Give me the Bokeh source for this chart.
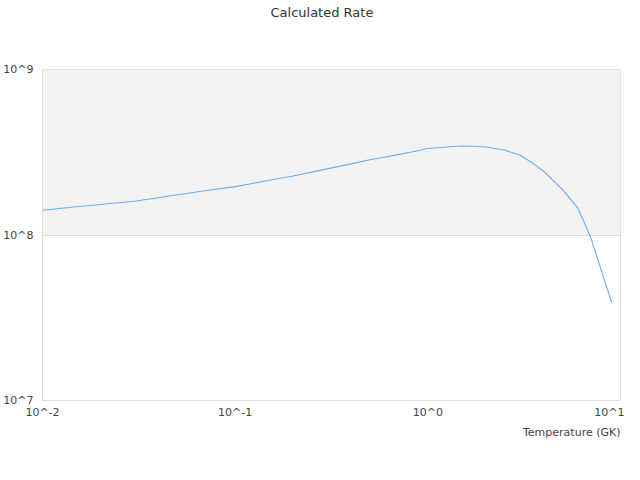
from bokeh.plotting import figure
from bokeh.models import Range1d, FixedTicker, CustomJSTickFormatter, BoxAnnotation, Title
from bokeh.embed import file_html
from bokeh.resources import INLINE

temperature = [0.01, 0.015, 0.02, 0.03, 0.04, 0.05, 0.07, 0.1, 0.15, 0.2, 0.3, 0.4, 0.5,
               0.6, 0.7, 0.8, 0.9, 1.0, 1.25, 1.5, 1.75, 2.0, 2.5, 3.0, 3.5, 4.0,
               5.0, 6.0, 7.0, 8.0, 9.0]
rate = [1.41e8, 1.48e8, 1.53e8, 1.60e8, 1.68e8, 1.75e8, 1.85e8, 1.96e8, 2.14e8, 2.27e8,
        2.51e8, 2.69e8, 2.85e8, 2.96e8, 3.06e8, 3.15e8, 3.24e8, 3.33e8, 3.40e8, 3.45e8,
        3.44e8, 3.40e8, 3.26e8, 3.04e8, 2.72e8, 2.42e8,
        1.88e8, 1.46e8, 9.7e7, 5.97e7, 3.91e7]
x_ticks = [0.01, 0.1, 1, 10]
y_ticks = [1e7, 1e8, 1e9]
band_low, band_high = 1e8, 1e9
chart_title = "Calculated Rate"
x_title = "Temperature (GK)"

p = figure(width=624, height=464, x_axis_type="log", y_axis_type="log",
           x_range=Range1d(0.01, 10), y_range=Range1d(1e7, 1e9),
           output_backend="svg", toolbar_location=None,
           min_border_left=40, min_border_right=4, min_border_top=69, min_border_bottom=64)

p.title.text = ""

# spacer between frame and the title (inner), then the visible title (outer)
spacer = Title(text=" ", text_font="DejaVu Sans", text_font_size="13px", standoff=33)
p.add_layout(spacer, "above")
main_title = Title(text=chart_title, align="left", offset=228, standoff=0,
                   text_font="DejaVu Sans", text_font_size="13px",
                   text_font_style="normal", text_color="#333333")
p.add_layout(main_title, "above")

p.add_layout(BoxAnnotation(bottom=band_low, top=band_high, fill_color="#f3f3f3",
                           fill_alpha=1.0, line_color=None, level="underlay"))

p.line(temperature, rate, line_color="#6aaef0", line_width=1.1)

fmt = CustomJSTickFormatter(code="return '10^' + Math.round(Math.log10(tick));")
for ax, ticks in ((p.xaxis, x_ticks), (p.yaxis, y_ticks)):
    ax.ticker = FixedTicker(ticks=ticks)
    ax.formatter = fmt
    ax.axis_line_color = None
    ax.major_tick_line_color = None
    ax.minor_tick_line_color = None
    ax.major_tick_out = 0
    ax.major_tick_in = 0
    ax.minor_tick_out = 0
    ax.minor_tick_in = 0
    ax.major_label_text_font = "DejaVu Sans"
    ax.major_label_text_font_size = "11px"
    ax.major_label_text_color = "#444444"
p.yaxis.major_label_standoff = 9
p.xaxis.major_label_standoff = 5

p.xgrid.grid_line_color = None
p.ygrid.ticker = FixedTicker(ticks=y_ticks)
p.ygrid.grid_line_color = "#dddddd"
p.outline_line_color = "#dddddd"
p.outline_line_width = 1

xt = Title(text=x_title, align="right", text_font="DejaVu Sans",
           text_font_size="11px", text_font_style="normal", text_color="#444444",
           standoff=4)
p.add_layout(xt, "below")

p.background_fill_color = "white"
p.border_fill_color = "white"

open("out.html", "w").write(file_html(p, INLINE))
